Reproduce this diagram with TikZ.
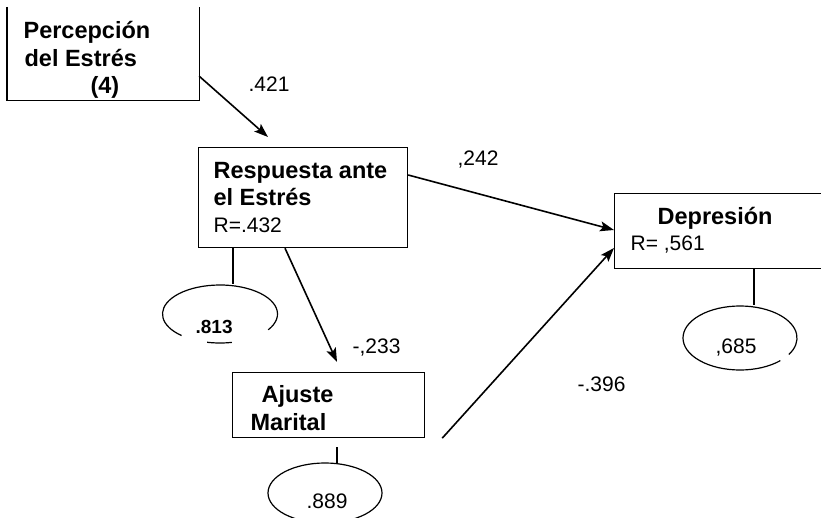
\documentclass[tikz,border=0pt]{standalone}
\usepackage{fontspec}
\setmainfont{Liberation Sans}
\usetikzlibrary{arrows.meta,calc,shapes.geometric}
\begin{document}
\begin{tikzpicture}[x=1pt,y=-1pt,
  line width=1.2pt,
  boxst/.style={rectangle,draw,inner sep=0pt,anchor=north west},
  ellst/.style={ellipse,inner sep=0pt},
  ttl/.style={anchor=base west,inner sep=0pt,font=\fontsize{23.5}{27}\selectfont\bfseries},
  lbl/.style={anchor=base west,inner sep=0pt,font=\fontsize{21}{25}\selectfont},
  arr/.style={line width=1.6pt,-{Stealth[length=14pt,width=10pt,inset=3pt]}},
]
\clip (0,0) rectangle (821,518);
% boxes
\node[boxst,draw=none,minimum width=191pt,minimum height=92pt] (p) at (7,7) {};
\draw (p.north west) -- (p.south west) -- (p.south east) -- (p.north east);
\node[boxst,minimum width=209pt,minimum height=100pt] (r) at (198,147) {};
\node[boxst,minimum width=226pt,minimum height=75pt] (d) at (614,193) {};
\node[boxst,minimum width=192pt,minimum height=65pt] (a) at (232,372) {};
% ellipses (error terms)
\node[ellst,minimum width=115pt,minimum height=58pt] (e1) at (220,314) {};
\node[ellst,minimum width=114pt,minimum height=64pt] (e3) at (740,338) {};
\node[ellst,minimum width=114pt,minimum height=60pt] (e2) at (325,493) {};
\draw ($(e1.center)+(33:57.5 and 29)$) arc[start angle=33,end angle=-228,x radius=57.5,y radius=29];
\draw ($(e1.center)+(78:57.5 and 29)$) arc[start angle=78,end angle=103,x radius=57.5,y radius=29];
\draw ($(e3.center)+(45:57 and 32)$) arc[start angle=45,end angle=391,x radius=57,y radius=32];
\draw (e2.center) ellipse[x radius=57,y radius=30];
% connectors to error terms
\coordinate (r1) at ($(r.south west)+(35,0)$);
\draw (r1) -- (r1 |- e1.north);
\coordinate (d1) at ($(d.south west)+(140,0)$);
\draw (d1) -- (d1 |- e3.north);
\coordinate (a1) at ($(a.south west)+(105,9)$);
\draw (a1) -- ($(a1 |- e2.north)+(0,2)$);
% paths
\draw[arr] ($(p.south east)+(0,-24)$) -- ($(r.north west)+(70,-10)$);
\draw[arr] ($(r.north east)+(0,28)$) -- ($(d.north west)+(0,37)$);
\draw[arr] ($(r.south west)+(87,0)$) -- ($(a.north west)+(105,-10)$);
\draw[arr] ($(a.south east)+(17,0)$) -- ($(d.north west)+(0,55)$);
% texts
\node[ttl] (tp1) at (23,39) {Percepción};
\node[ttl] (tp2) at (24,67) {del Estrés};
\node[ttl] (tp3) at (90,94) {(4)};
\node[lbl] (l1) at (248,92) {.421};
\node[ttl] (tr1) at (213,179) {Respuesta ante};
\node[ttl] (tr2) at (213,206) {el Estrés};
\node[lbl] (tr3) at (213,233) {R=.432};
\node[lbl] (l2) at (457,166) {,242};
\node[ttl] (td1) at (657,225) {Depresión};
\node[lbl] (td2) at (630,251) {R= ,561};
\node[lbl] (te3) at (715,353) {,685};
\node[anchor=base west,inner sep=0pt,font=\fontsize{19}{23}\selectfont\bfseries] (te1) at (195,334) {.813};
\node[lbl] (l3) at (352,353) {-,233};
\node[ttl] (ta1) at (261,402) {Ajuste};
\node[ttl] (ta2) at (250,430) {Marital};
\node[lbl] (te2) at (306,508) {.889};
\node[lbl] (l4) at (577,391) {-.396};
\end{tikzpicture}
\end{document}
